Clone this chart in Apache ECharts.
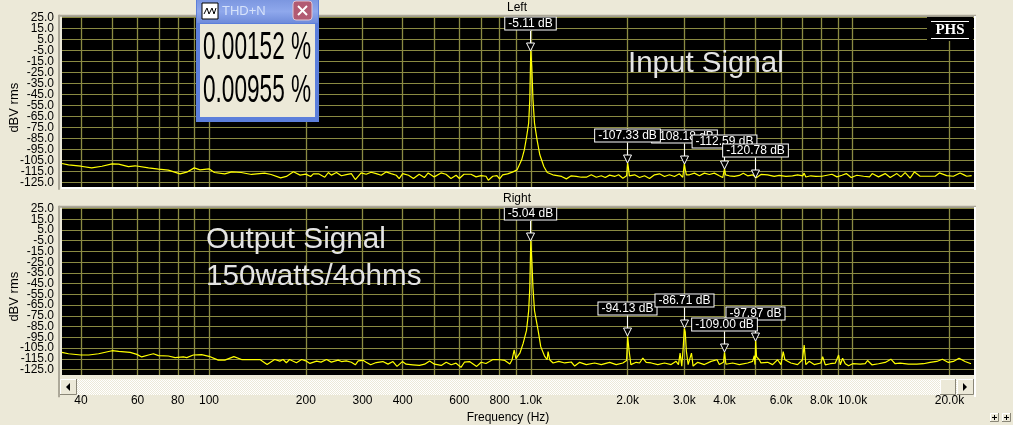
<!DOCTYPE html>
<html><head><meta charset="utf-8">
<style>html,body{margin:0;padding:0;background:#ECE9D8}#c{width:1013px;height:425px}</style>
<script src="https://cdn.jsdelivr.net/npm/echarts@6/dist/echarts.min.js"></script>
</head><body><div id="c"></div>
<script>
const leftFreq=[34.9,36.6,40,43.2,46.5,50,52.4,56.2,58.9,64.9,69.7,74.8,81.3,85.3,90,93.8,100,104,112,117.6,126,135.6,149,156,167,174,183,192,200,207,211,219,229,235,240,249,258,267,277,285,297,308,319,331,343,355,368,382,390,400,417,432,450,467,480,501,526,545,565,586,600,620,652,676,700,726,738,762,785,800,818,847,877,907,937,955,971,985,993,1000,1007,1016,1027,1046,1067,1098,1125,1171,1247,1290,1336,1385,1436,1488,1542,1598,1656,1704,1758,1822,1875,1933,1985,2000,2012,2025,2037,2102,2178,2257,2339,2424,2512,2603,2698,2795,2897,2967,3000,3020,3045,3112,3225,3342,3463,3589,3719,3854,3948,4000,4030,4140,4290,4446,4576,4720,4890,5020,5192,5445,5708,5916,6207,6508,6745,7000,7072,7157,7419,7687,8034,8326,8628,8941,9268,9559,9905,10314,10817,11291,11508,12037,12627,13088,13725,14124,14565,15092,15570,16210,17208,18050,18611,19611,20571,21573,22195,22620,23442];
const leftDb=[-107.7,-108.9,-110.2,-111.7,-110.2,-108,-108.3,-110.5,-109.8,-111.7,-112.9,-113.8,-117.1,-115.6,-111.7,-113.5,-112.6,-115.9,-117.1,-115.3,-115.9,-117.7,-116.5,-117.7,-120.8,-119.5,-115.3,-118.3,-117.4,-119.5,-117.1,-117.1,-120.2,-115.9,-118.3,-115.9,-118.9,-117.8,-116.9,-122.3,-116.3,-117.5,-115.7,-116.9,-118.4,-115.4,-116.9,-118.4,-121.4,-116.9,-118.4,-121.4,-117.5,-120.5,-116.3,-119.9,-116.3,-117.5,-121.4,-118.4,-121.4,-117.5,-117.5,-119.9,-118.7,-119.3,-122.9,-119.3,-118.7,-121.7,-118,-117.1,-115.6,-113.5,-104.4,-95.3,-83.2,-71,-49.8,-5.11,-19.5,-49.8,-71,-86.2,-99.8,-110.5,-115.9,-118,-119.5,-121.7,-118.9,-119.5,-120.2,-120.2,-118,-120.2,-118.9,-120.5,-118.3,-119.5,-118,-121.1,-118.9,-107.33,-112,-119,-119.5,-118,-120.5,-118.9,-121.4,-118,-117.1,-119.5,-118,-119.5,-117.1,-120.2,-108.18,-113,-118,-118,-116.5,-118.9,-116.5,-117.7,-116.5,-118.9,-120.5,-112.59,-118,-118.9,-119.5,-118.6,-116.5,-118.9,-118,-120.78,-117.7,-118,-119.5,-118.6,-119.5,-118.9,-118,-119,-116.5,-120,-118.9,-119.5,-119.3,-118.4,-117.5,-119.9,-118.4,-116.9,-120.5,-118.4,-119.3,-119.9,-116.9,-119.9,-116.9,-120.5,-116.9,-119.9,-116,-121.1,-115.4,-119.3,-119.3,-119.3,-116.3,-118.7,-119.3,-116.3,-118.1,-119.3,-118.7];
const rightFreq=[34.9,36.6,40,42.3,45.4,50,52.4,56.9,59.7,61.8,64.9,67.2,69.7,74.8,78.5,83.3,85.3,89.4,94.9,100,106.9,112,119.5,126.3,134,144,151.6,160,166,170,174,178,187,194,201,206,216,223,232,240,252,258,267,277,285,291,301,308,318,331,347,360,373,384,399,410,430,451,468,485,502,527,546,566,586,607,622,645,679,701,726,744,761,785,802,831,861,875,888,899,925,947,970,985,993,1000,1007,1016,1027,1054,1074,1105,1124,1132,1145,1173,1222,1275,1336,1369,1419,1488,1579,1656,1758,1843,1933,1985,2000,2020,2047,2126,2178,2230,2284,2367,2482,2603,2730,2829,2877,2911,2946,2975,3000,3020,3045,3083,3158,3194,3303,3463,3633,3792,3854,3970,4000,4040,4240,4446,4720,4891,4950,4975,5000,5030,5131,5192,5445,5642,5846,5990,6088,6161,6431,6745,6987,7072,7157,7330,7596,7967,8072,8226,8525,8838,9050,9158,9311,9491,9718,10000,10563,10947,11130,11482,12037,12627,13151,13565,14056,14916,15830,16610,17412,18260,19015,19850,20571,21419,22356,23335];
const rightDb=[-108.9,-110.2,-111.4,-111.4,-110.2,-107.4,-108,-108.9,-110.8,-113.2,-111.4,-110.2,-112,-112.3,-113.8,-113.2,-113.8,-111.4,-111.1,-112.6,-116.2,-116.2,-112.9,-115.6,-115.6,-115.6,-120.2,-115.6,-117.1,-115.6,-118.6,-115.6,-118.6,-115.6,-117.1,-119.2,-117.1,-118,-115.6,-118,-116.2,-117.5,-116.9,-118.1,-120.5,-116.9,-116.3,-118.1,-120.5,-118.4,-117.5,-119.9,-117.5,-122,-117.5,-119.9,-120.5,-121.1,-119.9,-116.9,-119.9,-121.1,-118.1,-120.5,-119,-122.9,-118.1,-117.5,-122,-118.1,-119.3,-117.5,-115.7,-115.7,-115.8,-116.4,-119.7,-115.8,-106.7,-114.8,-109.7,-100.6,-88.5,-70.3,-49,-5.04,-22,-49,-70,-88.5,-103.6,-112.7,-115.8,-108.2,-115.8,-118.8,-117.3,-118.8,-117.9,-121.7,-118.2,-120.3,-118.8,-120.3,-118.2,-120.3,-118.8,-116.4,-94.13,-107,-120.3,-118.2,-118.8,-114.2,-118.2,-118.8,-120.3,-118.8,-120.3,-117.3,-120.3,-109.7,-121.7,-105.2,-86.71,-90,-108,-120.3,-109.7,-121.7,-118.2,-120.3,-117.3,-115.8,-120.3,-118.2,-109,-120,-118.8,-120.3,-118.8,-117.3,-112.1,-120.3,-97.97,-113,-115.8,-118.8,-118.2,-120.3,-115.8,-120.3,-108.2,-115.8,-118.8,-120.3,-115.8,-102.1,-120.3,-117.3,-120.3,-118.8,-112.9,-120.5,-119.5,-118.9,-111.4,-120.5,-114.4,-119.5,-121.4,-119.5,-119.8,-119.5,-116.5,-120.5,-119.5,-118.3,-115.3,-119.5,-118.9,-119.8,-119.8,-119.5,-118.3,-117.4,-115.3,-118.3,-117.4,-114.4,-117.4,-119.5];
const leftMarkerFreq=[1000,3000,2000,4000,5000];
const leftMarkerDb=[-5.11,-108.18,-107.33,-112.59,-120.78];
const rightMarkerFreq=[1000,2000,3000,5000,4000];
const rightMarkerDb=[-5.04,-94.13,-86.71,-97.97,-109.00];
const yTicks=[25,15,5,-5,-15,-25,-35,-45,-55,-65,-75,-85,-95,-105,-115,-125];
const xGridFreq=[40,50,60,70,80,90,100,200,300,400,500,600,700,800,900,1000,2000,3000,4000,5000,6000,7000,8000,9000,10000,20000];
const xLabelFreq=[40,60,80,100,200,300,400,600,800,1000,2000,3000,4000,6000,8000,10000,20000];
const xLabelText=['40','60','80','100','200','300','400','600','800','1.0k','2.0k','3.0k','4.0k','6.0k','8.0k','10.0k','20.0k'];
const thdValues=['0.00152 %','0.00955 %'];

const FONT='"Liberation Sans",Arial,sans-serif';
const GRID='#8A8A42', BG='#ECE9D8';
const chart=echarts.init(document.getElementById('c'),null,{renderer:'canvas',width:1013,height:425});

function zip(a,b){return a.map((v,i)=>[v,b[i]]);}
function xAxis(idx,showLabels){
  return {type:'log',gridIndex:idx,min:34.94,max:23840,logBase:10,offset:showLabels?16:0,
    axisLine:{show:true,onZero:false,lineStyle:{color:'#fff',width:2}},
    axisTick:{show:showLabels,length:3,customValues:xGridFreq,lineStyle:{color:'#000'}},
    splitLine:{show:true,lineStyle:{color:GRID,width:1.3}},
    minorTick:{show:false},minorSplitLine:{show:false},
    axisLabel:{show:showLabels,margin:4,customValues:xLabelFreq,hideOverlap:false,color:'#000',fontFamily:FONT,fontSize:12,
      formatter:(v)=>{let bi=0,bd=1e9;xLabelFreq.forEach((f,i)=>{const d=Math.abs(Math.log10(f)-Math.log10(v));if(d<bd){bd=d;bi=i;}});return xLabelText[bi];}},
    name:showLabels?'Frequency (Hz)':'',nameLocation:'middle',nameGap:21,
    nameTextStyle:{color:'#000',fontFamily:FONT,fontSize:12,padding:[0,20,0,0]}};
}
// Labels sit 11px apart, closer than ECharts lets neighbours be, so each grid
// carries two coincident y axes that label alternate ticks.
function yAxis(idx,pad){
  return {type:'value',gridIndex:idx,position:'left',min:-130,max:26,
    axisLine:{show:false},
    axisTick:{show:false,customValues:yTicks},
    splitLine:{show:true,lineStyle:{color:GRID,width:1}},
    axisLabel:{margin:8,customValues:yTicks.filter((_,i)=>i%2===0),hideOverlap:false,color:'#000',fontFamily:FONT,fontSize:12,formatter:v=>v.toFixed(1)},
    name:'dBV rms',nameLocation:'middle',nameGap:41,nameMoveOverlap:false,
    nameTextStyle:{color:'#000',fontFamily:FONT,fontSize:13,padding:[0,pad,0,0]}};
}
function yAxisAlt(idx){
  return {type:'value',gridIndex:idx,position:'left',min:-130,max:26,
    axisLine:{show:false},axisTick:{show:false},splitLine:{show:false},
    axisLabel:{margin:8,customValues:yTicks.filter((_,i)=>i%2===1),hideOverlap:false,color:'#000',fontFamily:FONT,fontSize:12,formatter:v=>v.toFixed(1)}};
}
function lineSeries(i,f,d){
  return {type:'line',xAxisIndex:i,yAxisIndex:i,data:zip(f,d),symbol:'none',smooth:false,z:3,
    lineStyle:{color:'#FFFF00',width:1.2},animation:false};
}
function markerSeries(i,f,d){
  return {type:'custom',xAxisIndex:i,yAxisIndex:i,data:zip(f,d),clip:false,z:5,animation:false,
    encode:{x:0,y:1},
    renderItem(params,api){
      const p=api.coord([api.value(0),api.value(1)]);
      const x=Math.floor(p[0])+0.5,y=Math.round(p[1]);
      const txt=api.value(1).toFixed(2)+' dB';
      return {type:'group',children:[
        {type:'line',shape:{x1:x,y1:y-20,x2:x,y2:y-8},style:{stroke:'#fff',lineWidth:1}},
        {type:'polygon',shape:{points:[[x-4,y-8],[x+4,y-8],[x,y]]},style:{fill:'#000',stroke:'#fff',lineWidth:1}},
        {type:'text',x:x,y:y-27.5,style:{text:txt,align:'center',verticalAlign:'middle',fill:'#fff',
          font:'12px '+FONT,backgroundColor:'#000',borderColor:'#fff',borderWidth:1,padding:[0,3,0,3]}}
      ]};
    }};
}
// graphic helpers
function R(x,y,w,h,fill,z,extra){return Object.assign({type:'rect',shape:{x,y,width:w,height:h},style:{fill},z:z||50,silent:true},extra||{});}
function T(x,y,text,font,fill,opt){
  const o=Object.assign({},opt||{});const st=o.style||{};delete o.style;
  return Object.assign({type:'text',x,y,z:60,silent:true,style:Object.assign({text,font,fill,align:'left',verticalAlign:'middle'},st)},o);
}
function raised(x,y,w,h){return [
  R(x,y,w,h,'#ECE9D8',52),
  {type:'polyline',z:53,silent:true,shape:{points:[[x+.5,y+h],[x+.5,y+.5],[x+w,y+.5]]},style:{stroke:'#fff',fill:null,lineWidth:1}},
  {type:'polyline',z:53,silent:true,shape:{points:[[x+w-.5,y],[x+w-.5,y+h-.5],[x,y+h-.5]]},style:{stroke:'#8a8778',fill:null,lineWidth:1}}];}
const cv=document.createElement('canvas');cv.width=2;cv.height=2;
const g=cv.getContext('2d');g.fillStyle='#fff';g.fillRect(0,0,2,2);g.fillStyle='#ECE9D8';g.fillRect(0,0,1,1);g.fillRect(1,1,1,1);

const titleGrad={type:'linear',x:0,y:0,x2:0,y2:1,colorStops:[{offset:0,color:'#7C97E0'},{offset:.5,color:'#8FA8EC'},{offset:1,color:'#6F8BDA'}]};
const graphics=[
  // sunken frames
  R(59,14.7,917,2,'#ACA899',40), R(58,14.7,2,175,'#ACA899',40), R(974,16,2,174,'#fff',40),
  R(59,205.7,917,2,'#ACA899',40), R(58,205.7,2,191.5,'#ACA899',40), R(974,207,2,190,'#fff',40),
  // PHS badge
  R(927,17,46,24,'#000',45),
  R(931,21,38,1,'#fff',46), R(931,38,38,1,'#fff',46),
  T(950,30,'PHS','bold 15px "Liberation Serif","Times New Roman",serif','#fff',{style:{align:'center'}}),
  // annotations
  T(628,64,'Input Signal','29.5px '+FONT,'#E4E4E4'),
  T(206,240,'Output Signal','29.7px '+FONT,'#E4E4E4'),
  T(206,277,'150watts/4ohms','29.6px '+FONT,'#E4E4E4'),
  // scrollbar
  R(60,379,914,16,{image:cv,repeat:'repeat'},50),
  ...raised(60,379,17,16), ...raised(940,379,16,16), ...raised(957,379,17,16),
  {type:'polygon',z:54,silent:true,shape:{points:[[70,383],[70,391],[66,387]]},style:{fill:'#000'}},
  {type:'polygon',z:54,silent:true,shape:{points:[[963,383],[963,391],[967,387]]},style:{fill:'#000'}},
  // + buttons
  ...raised(990,413,9,9), ...raised(1002,413,9,9),
  R(992,417,5,1,'#000',54),R(994,415,1,5,'#000',54),R(1004,417,5,1,'#000',54),R(1006,415,1,5,'#000',54),
  // THD+N window
  R(196,0,123,122,'#5C7FDB',70),
  R(197,0,121,23,titleGrad,71),
  R(200,24,115,93,BG,71),
  R(202,3,16,16,'#fff',72,{style:{fill:'#fff',stroke:'#000',lineWidth:1}}),
  {type:'polyline',z:73,silent:true,shape:{points:[[204,14],[207,8],[209,14],[212,8],[214,14],[216,8]]},style:{stroke:'#000',fill:null,lineWidth:1}},
  Object.assign(T(222,11,'THD+N','13px '+FONT,'#D6E2FA'),{z:73}),
  R(293,1,19,19,'#B25A72',72,{shape:{x:293,y:1,width:19,height:19,r:3},style:{fill:'#B25A72',stroke:'#E0C8D4',lineWidth:1}}),
  {type:'line',z:73,silent:true,shape:{x1:298,y1:6,x2:307,y2:15},style:{stroke:'#fff',lineWidth:2}},
  {type:'line',z:73,silent:true,shape:{x1:307,y1:6,x2:298,y2:15},style:{stroke:'#fff',lineWidth:2}},
  Object.assign(T(203,48,thdValues[0],'39px '+FONT,'#000',{scaleX:0.58}),{z:73}),
  Object.assign(T(203,91,thdValues[1],'39px '+FONT,'#000',{scaleX:0.58}),{z:73})
];

chart.setOption({
  animation:false,backgroundColor:BG,
  title:[
    {text:'Left',left:517,top:2,textAlign:'center',textStyle:{color:'#000',fontFamily:FONT,fontSize:12,fontWeight:'normal'},padding:0},
    {text:'Right',left:517,top:193,textAlign:'center',textStyle:{color:'#000',fontFamily:FONT,fontSize:12,fontWeight:'normal'},padding:0}
  ],
  grid:[
    {left:60,top:16.4,width:914,height:171.6,show:true,backgroundColor:'#000',borderWidth:0},
    {left:60,top:207.4,width:914,height:171.6,show:true,backgroundColor:'#000',borderWidth:0}
  ],
  xAxis:[xAxis(0,false),xAxis(1,true)],
  yAxis:[yAxis(0,11),yAxis(1,11),yAxisAlt(0),yAxisAlt(1)],
  series:[lineSeries(0,leftFreq,leftDb),lineSeries(1,rightFreq,rightDb),
    markerSeries(0,leftMarkerFreq,leftMarkerDb),markerSeries(1,rightMarkerFreq,rightMarkerDb)],
  graphic:{elements:graphics}
});
</script></body></html>
